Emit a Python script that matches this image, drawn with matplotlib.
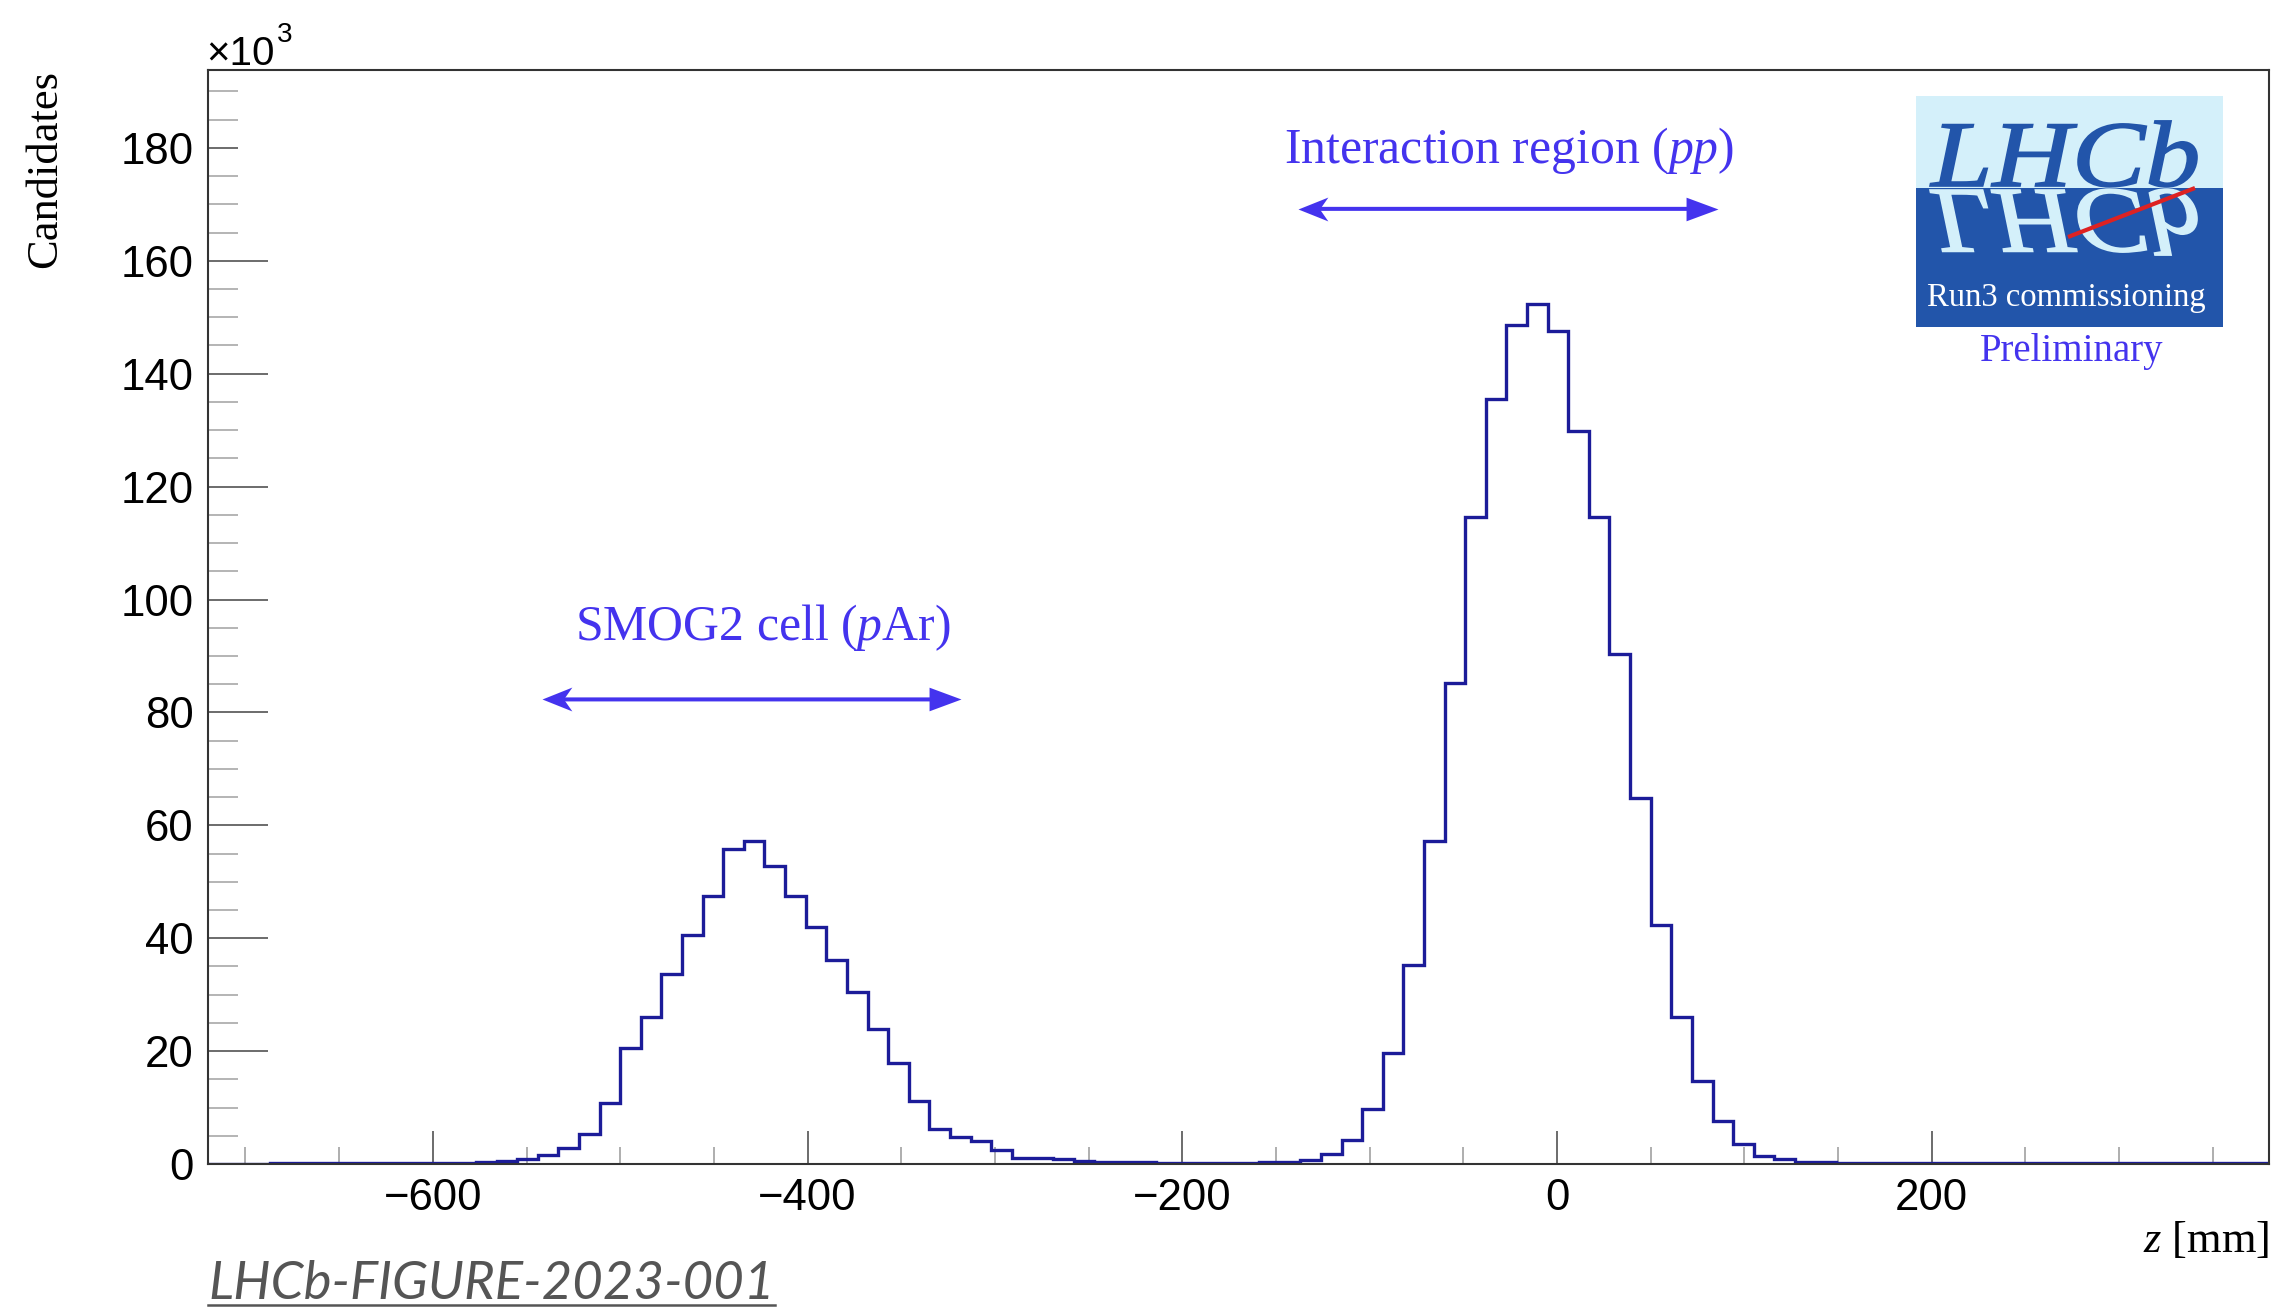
import numpy as np
import matplotlib
matplotlib.use('Agg')
import matplotlib.pyplot as plt
from matplotlib.path import Path
from matplotlib.textpath import TextPath
from matplotlib.patches import PathPatch, Rectangle
from matplotlib.font_manager import FontProperties
from matplotlib.transforms import Affine2D
from matplotlib.lines import Line2D

plt.rcParams['font.family'] = ['Liberation Sans', 'DejaVu Sans']
plt.rcParams['mathtext.fontset'] = 'custom'
plt.rcParams['mathtext.rm'] = 'Liberation Serif'
plt.rcParams['mathtext.it'] = 'Liberation Serif:italic'

# ---------------- data ----------------
z_min, z_max, n_bins = -720, 380, 100          # histogram range [mm], 11 mm bins
counts_k = [
    0, 0, 0,
    0.2, 0.2, 0.2, 0.2, 0.2, 0.21, 0.22, 0.23, 0.24, 0.26, 0.32,
    0.5, 0.8, 1.6, 2.9, 5.4, 10.8, 20.6, 26.1, 33.6, 40.6, 47.4, 55.8, 57.3,
    52.8, 47.5, 42.0, 36.2, 30.4, 24.0, 17.9, 11.2, 6.2, 4.7, 4.1, 2.5, 1.1,
    1.1, 0.9, 0.6,
    0.38, 0.32, 0.28, 0.25, 0.23, 0.22, 0.22, 0.24, 0.27, 0.32,
    0.7, 1.8, 4.2, 9.7, 19.6, 35.3, 57.3, 85.2, 114.6, 135.5, 148.7, 152.4,
    147.5, 129.8, 114.6, 90.4, 64.9, 42.4, 26.1, 14.7, 7.7, 3.5, 1.5, 0.8, 0.32,
    0.27, 0.24, 0.22, 0.21, 0.2, 0.2, 0.2, 0.2, 0.2, 0.2, 0.2, 0.2, 0.2,
    0.2, 0.2, 0.2, 0.2, 0.2, 0.2, 0.2, 0.2, 0.2,
]
assert len(counts_k) == n_bins
edges = np.linspace(z_min, z_max, n_bins + 1)

x_major = [-600, -400, -200, 0, 200]
y_major = [0, 20, 40, 60, 80, 100, 120, 140, 160, 180]

smog_label = 'SMOG2 cell ($\\mathit{p}$Ar)'
smog_arrow = (-542, -318, 82.3)
ip_label = 'Interaction region ($\\mathit{pp}$)'
ip_arrow = (-138.5, 86, 169.2)

# ---------------- figure ----------------
W, H = 2278, 1312
fig = plt.figure(figsize=(W / 100, H / 100), dpi=100)
fig.patch.set_facecolor('white')

ax_l, ax_r, ax_t, ax_b = 208, 2269, 70, 1164
ax = fig.add_axes([ax_l / W, 1 - ax_b / H, (ax_r - ax_l) / W, (ax_b - ax_t) / H])

hist_color = '#1c1c99'
ax.stairs(counts_k, edges, color=hist_color, lw=2.4, zorder=2)

ax.set_xlim(z_min, z_max)
ax.set_ylim(0, 193.8)

ax.set_xticks(x_major)
ax.set_xticks(np.arange(-700, 381, 50), minor=True)
ax.set_yticks(y_major)
ax.set_yticks(np.arange(0, 193, 5), minor=True)
ax.set_xticklabels([f'{v}'.replace('-', '\u2212') for v in x_major])
ax.set_yticklabels([str(v) for v in y_major])

ax.tick_params(axis='x', which='major', direction='in', length=23.5, width=1.1,
               color='#444444', pad=10, labelsize=31.5, top=False)
ax.tick_params(axis='x', which='minor', direction='in', length=12, width=1.1,
               color='#999999', top=False)
ax.tick_params(axis='y', which='major', direction='in', length=43, width=1.1,
               color='#444444', pad=10.5, labelsize=31.5, right=False)
ax.tick_params(axis='y', which='minor', direction='in', length=21.5, width=1.1,
               color='#a0a0a0', right=False)
for t, loc in zip(ax.yaxis.get_major_ticks(), y_major):
    if loc == 180:
        t.tick1line.set_markersize(21.5)
        t.tick1line.set_color('#a0a0a0')

for s in ax.spines.values():
    s.set_color('#333333')
    s.set_linewidth(1.5)
    s.set_zorder(3)

# axis titles
fig.text(45 / W, 1 - 70 / H, 'Candidates', rotation=90, ha='center', va='top',
         fontsize=32, family='Liberation Serif')
fig.text(2269 / W, 1 - 1252 / H, '$\\mathit{z}$ [mm]', ha='right', va='baseline',
         fontsize=32, family='Liberation Serif')
fig.text(206 / W, 1 - 65 / H, '\u00d710', ha='left', va='baseline', fontsize=29)
fig.text(277 / W, 1 - 42 / H, '3', ha='left', va='baseline', fontsize=20)

# annotations
ann_color = '#4433ee'
left_head = Path([(0, 0), (1, 0.40), (0.72, 0), (1, -0.40), (0, 0)],
                 [Path.MOVETO, Path.LINETO, Path.LINETO, Path.LINETO, Path.CLOSEPOLY])
right_head = Path([(0, 0), (-1, 0.37), (-1, -0.37), (0, 0)],
                  [Path.MOVETO, Path.LINETO, Path.LINETO, Path.CLOSEPOLY])


def double_arrow(x1, x2, y):
    ax.annotate('', xy=(x2, y), xytext=(x1, y),
                arrowprops=dict(arrowstyle='-', lw=2.9, color=ann_color,
                                shrinkA=8, shrinkB=8))
    ax.plot([x1], [y], marker=left_head, ms=43, mfc=ann_color, mew=0, ls='none')
    ax.plot([x2], [y], marker=right_head, ms=46, mfc=ann_color, mew=0, ls='none')


ax.text(-424, 92.8, smog_label, ha='center', va='baseline', fontsize=35.8,
        family='Liberation Serif', color=ann_color)
double_arrow(*smog_arrow)
ax.text(-25.4, 177.3, ip_label, ha='center', va='baseline', fontsize=35.8,
        family='Liberation Serif', color=ann_color)
double_arrow(*ip_arrow)

# LHCb logo
lx0, ly0, lw_, lh_ = 1916, 96, 307, 231
axl = fig.add_axes([lx0 / W, 1 - (ly0 + lh_) / H, lw_ / W, lh_ / H])
axl.set_xlim(0, lw_)
axl.set_ylim(0, lh_)
axl.axis('off')
split = lh_ - (188 - ly0)
light, dark = '#d4f0fa', '#2255aa'
axl.add_patch(Rectangle((0, split), lw_, lh_ - split, facecolor=light, lw=0))
axl.add_patch(Rectangle((0, 0), lw_, split, facecolor=dark, lw=0))
fp = FontProperties(family='Liberation Serif', style='italic', weight='normal')
tp = TextPath((0, 0), 'LHCb', size=100, prop=fp)
ext = tp.get_extents()
sx = 267 / ext.width
sy = 66 / ext.height
top_tr = Affine2D().translate(-ext.x0, 0).scale(sx, sy).translate(14, split + 2)
bot_tr = Affine2D().translate(-ext.x0, 0).scale(sx, -sy).translate(14, split - 2)
axl.add_patch(PathPatch(top_tr.transform_path(tp), facecolor=dark, edgecolor=dark, lw=1.2))
axl.add_patch(PathPatch(bot_tr.transform_path(tp), facecolor=light, edgecolor=light, lw=1.2))
axl.plot([152, 279], [90, 139], color='#dd2222', lw=3, solid_capstyle='butt')

fig.text(2066 / W, 1 - 306 / H, 'Run3 commissioning', ha='center', va='baseline',
         fontsize=23.5, family='Liberation Serif', color='white')
fig.text(2072 / W, 1 - 361 / H, 'Preliminary', ha='center', va='baseline',
         fontsize=28, family='Liberation Serif', color=ann_color)

# footer reference
gray = '#555555'
ft = fig.text(208 / W, 1 - 1299 / H, 'LHCb-FIGURE-2023-001', ha='left', va='baseline',
              fontsize=38, family=['Lato', 'DejaVu Sans'], style='italic',
              weight='normal', color=gray)
fig.canvas.draw()
bb = ft.get_window_extent()
fig.add_artist(Line2D([bb.x0 / W, bb.x1 / W], [1 - 1305 / H] * 2,
                      transform=fig.transFigure, color=gray, lw=1.8))

fig.savefig('out.png', dpi=100)
